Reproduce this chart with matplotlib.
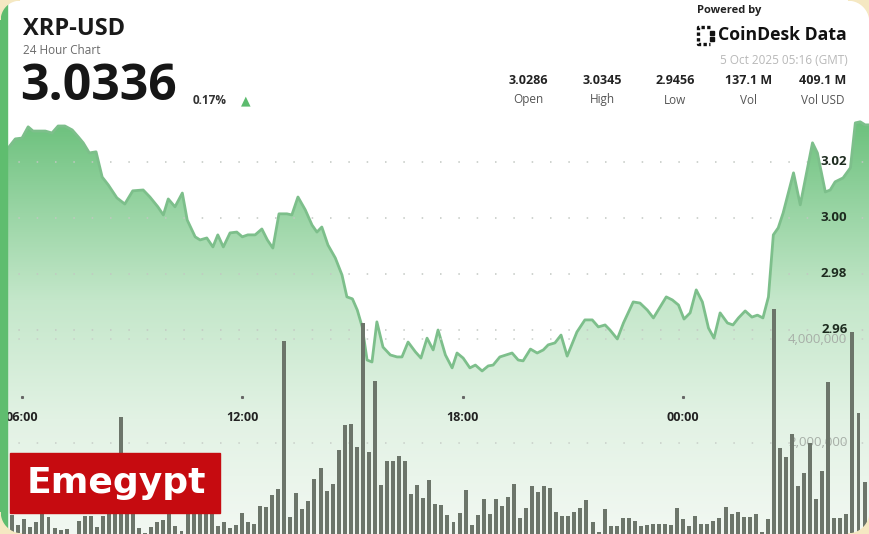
import numpy as np
import matplotlib; matplotlib.use("Agg")
import matplotlib.pyplot as plt
from matplotlib.colors import LinearSegmentedColormap
from matplotlib.patches import Polygon, Rectangle
from matplotlib.lines import Line2D

plt.rcParams['font.family'] = ['Open Sans', 'DejaVu Sans']

# price line: minutes after 06:00, close price
price_min = [-25, -11, 0, 10, 18, 29, 38, 49, 59, 70,
             82, 92, 100, 110, 121, 131, 141, 155, 168, 181,
             198, 209, 222, 231, 239, 250, 262, 270, 283, 291,
             302, 312, 320, 329, 340, 351, 360, 369, 381, 392,
             401, 410, 420, 433, 441, 451, 463, 474, 482, 490,
             500, 512, 523, 531, 540, 548, 556, 564, 572, 580,
             590, 602, 613, 621, 631, 643, 652, 662, 672, 680,
             692, 703, 711, 721, 732, 741, 752, 762, 770, 781,
             801, 811, 819, 831, 842, 852, 860, 871, 881, 891,
             907, 920, 932, 942, 953, 961, 973, 983, 999, 1010,
             1022, 1032, 1043, 1053, 1063, 1073, 1082, 1092, 1102, 1112,
             1122, 1131, 1141, 1153, 1162, 1171, 1182, 1193, 1202, 1211,
             1220, 1228, 1236, 1244, 1261, 1272, 1292, 1300, 1313, 1321,
             1329, 1342, 1354, 1362, 1370, 1378, 1386]
price = [3.0242, 3.0281, 3.0284, 3.0324, 3.0309, 3.0309, 3.0309, 3.0302, 3.0327, 3.0327,
         3.0313, 3.0288, 3.0267, 3.0231, 3.0235, 3.0145, 3.0117, 3.0071, 3.0049, 3.0096,
         3.0099, 3.0074, 3.0039, 3.0010, 3.0067, 3.0039, 3.0088, 2.9992, 2.9932, 2.9921,
         2.9928, 2.9896, 2.9939, 2.9896, 2.9946, 2.9949, 2.9932, 2.9939, 2.9939, 2.9960,
         2.9921, 2.9892, 3.0014, 3.0014, 3.0010, 3.0074, 3.0028, 2.9974, 2.9949, 2.9967,
         2.9903, 2.9857, 2.9796, 2.9718, 2.9711, 2.9671, 2.9611, 2.9493, 2.9486, 2.9629,
         2.9539, 2.9511, 2.9504, 2.9504, 2.9557, 2.9522, 2.9500, 2.9571, 2.9529, 2.9600,
         2.9511, 2.9465, 2.9518, 2.9500, 2.9465, 2.9475, 2.9454, 2.9472, 2.9475, 2.9504,
         2.9518, 2.9493, 2.9490, 2.9532, 2.9518, 2.9529, 2.9547, 2.9554, 2.9582, 2.9507,
         2.9593, 2.9636, 2.9636, 2.9611, 2.9618, 2.9600, 2.9568, 2.9625, 2.9700, 2.9696,
         2.9671, 2.9643, 2.9682, 2.9718, 2.9707, 2.9689, 2.9639, 2.9661, 2.9743, 2.9700,
         2.9607, 2.9571, 2.9661, 2.9625, 2.9618, 2.9643, 2.9668, 2.9646, 2.9653, 2.9643,
         2.9718, 2.9939, 2.9964, 3.0017, 3.0160, 3.0046, 3.0267, 3.0231, 3.0092, 3.0099,
         3.0128, 3.0142, 3.0178, 3.0338, 3.0342, 3.0331, 3.0331]

# volume per bar (thousands), bars roughly every 10 min starting just before 06:00
vol_k = [600, 408, 524, 369, 466, 621, 563, 350, 311, 331,
         234, 485, 582, 582, 369, 582, 795, 795, 2497, 795,
         698, 350, 253, 369, 466, 505, 621, 389, 292, 660,
         660, 660, 660, 660,
         389, 472, 350, 408, 640, 466, 427, 776, 756, 988,
         1104, 3967, 563, 1027, 718, 872, 1298, 1511, 1066, 1201,
         1859, 2342, 2362, 1917, 4315, 1820, 3193, 1182, 1646, 1646,
         1743, 1646, 1008, 1182, 930, 1279,
         814, 795, 601, 466, 640, 1085, 408, 601, 911, 621,
         911, 776, 950, 1201, 544, 737, 1162, 1046, 1162, 1124,
         660, 582, 582, 660, 737, 892, 466, 273, 718, 389,
         389, 544, 544, 485, 389,
         408, 427, 427, 427, 408, 737, 524, 389, 582, 427,
         427, 485, 544, 756, 621, 660, 563, 563, 621, 273,
         524, 4586, 1897, 1723, 2168, 1162, 1414, 1994, 911, 1453,
         3174, 544, 544, 621, 4141, 2574, 1240]
vol_start, vol_step = -16, 9.88

price_ticks = [2.96, 2.98, 3.00, 3.02]
vol_ticks = [2_000_000, 4_000_000]
time_ticks = [0, 360, 720, 1080]
time_labels = ["06:00", "12:00", "18:00", "00:00"]

stat_values = ["3.0286", "3.0345", "2.9456", "137.1 M", "409.1 M"]
stat_names = ["Open", "High", "Low", "Vol", "Vol USD"]

W, H = 870, 534
fig = plt.figure(figsize=(W / 100, H / 100), dpi=100)
fig.patch.set_facecolor("white")

ax = fig.add_axes([0, 0, 1, 1])
ax.set_xlim(-36, 1386)
ax.set_ylim(2.8873, 3.0776)
ax.axis("off")

# gradient fill under the price line
gcm = LinearSegmentedColormap.from_list(
    "g", [(0, "#f2f8f2"), (0.27, "#e2f2e4"), (0.55, "#c4e7ca"), (0.79, "#93d29f"), (1, "#66be77")])
im = ax.imshow(np.linspace(0, 1, 256).reshape(-1, 1), extent=[-36, 1386, 2.8873, 3.0384],
               origin="lower", aspect="auto", cmap=gcm, zorder=1)
verts = list(zip(price_min, price)) + [(price_min[-1], 2.85), (price_min[0], 2.85)]
poly = Polygon(verts, closed=True, facecolor="none", edgecolor="none", transform=ax.transData)
ax.add_patch(poly)
im.set_clip_path(poly)

for p in price_ticks:
    ax.axhline(p, color="#c2c8c2", lw=1.1, ls=(0, (1, 11)), zorder=2)
    ax.text(1349, p, f"{p:.2f}", ha="right", va="center", fontsize=9.5,
            fontweight="bold", color="#1d2b1f", zorder=6)

ax.plot(price_min, price, color="#7dbf8b", lw=2, zorder=4)

for t, lab in zip(time_ticks, time_labels):
    ax.text(t, 0.219, lab, transform=ax.get_xaxis_transform(), ha="center", va="center",
            fontsize=9, fontweight="bold", color="#222222")
    ax.plot([t], [0.2566], transform=ax.get_xaxis_transform(), marker="s", ms=1.2,
            color="#666666", clip_on=False)

axv = ax.twinx()
axv.set_ylim(234_000, 10_563_000)
axv.axis("off")
for v in vol_ticks:
    axv.axhline(v, color="#c8cec8", lw=1.1, ls=(0, (1, 11)), zorder=1)
    axv.text(1349, v, f"{v:,}", ha="right", va="center", fontsize=9.5, color="#a7aea7", zorder=2)
bar_t = vol_start + vol_step * np.arange(len(vol_k))
axv.bar(bar_t, np.array(vol_k) * 1000, width=6.5, color="#6c756a", zorder=3)

# header
def ftext(x, y, s, **kw):
    fig.text(x / W, 1 - y / H, s, **kw)

ftext(23, 29, "XRP-USD", fontsize=17, fontweight="bold", color="#1a1a1a", va="center")
ftext(23, 50, "24 Hour Chart", fontsize=8.5, color="#6a6a6a", va="center")
ftext(20, 87, "3.0336", fontsize=36, fontweight="bold", color="#161616", va="center")
ftext(193, 101, "0.17%", fontsize=8.5, fontweight="bold", color="#333333", va="center")
ftext(246, 101, "\u25B2", fontsize=9, color="#5cbb6e", va="center", ha="center",
      family="DejaVu Sans")

ftext(697, 10, "Powered by", fontsize=8, fontweight="bold", color="#222222", va="center")
ftext(718, 35, "CoinDesk Data", fontsize=12.7, fontweight="bold", color="#111111", va="center")
ftext(848, 60, "5 Oct 2025 05:16 (GMT)", fontsize=8.5, color="#b8b8b8", va="center", ha="right")
for cx, v, n in zip([528, 602, 675, 749, 823], stat_values, stat_names):
    ftext(cx, 80, v, fontsize=9, fontweight="bold", color="#222222", va="center", ha="center")
    ftext(cx, 100, n, fontsize=8.5, color="#555555", va="center", ha="center")

# CoinDesk icon
def fline(xs, ys, **kw):
    fig.add_artist(Line2D([x / W for x in xs], [1 - y / H for y in ys],
                          transform=fig.transFigure, **kw))

fline([710, 698, 698, 710], [27, 27, 44, 44], color="#111111", lw=2.4, ls=(0, (1, 0.7)))
fline([712, 712], [33, 39], color="#111111", lw=0, marker="s", ms=2.2)

# left stripe
fig.add_artist(Rectangle((0, 0), 7 / W, 1, transform=fig.transFigure, color="#5fbd6f", zorder=5))

# watermark box
fig.add_artist(Rectangle((10 / W, 1 - 513 / H), 210 / W, 60 / H, transform=fig.transFigure,
                         color="#c60b10", zorder=6))
ftext(116, 483, "Emegypt", fontsize=26, fontweight="bold", color="white", ha="center",
      va="center", family="DejaVu Sans", zorder=7)

# rounded card corners
def corner(cx, cy, sx, sy, r=22):
    ccx, ccy = cx + sx * r, cy + sy * r
    th = np.linspace(0, np.pi / 2, 30)
    pts = [(cx / W, cy / H)] + [((ccx - sx * r * np.cos(a)) / W, (ccy - sy * r * np.sin(a)) / H)
                                for a in th]
    fig.add_artist(Polygon(pts, closed=True, transform=fig.transFigure, color="#f5e8c2", zorder=8))

corner(0, 0, 1, 1)
corner(W, 0, -1, 1)
corner(0, H, 1, -1, r=20)
corner(W, H, -1, -1)

fig.savefig("out.png", dpi=100)
